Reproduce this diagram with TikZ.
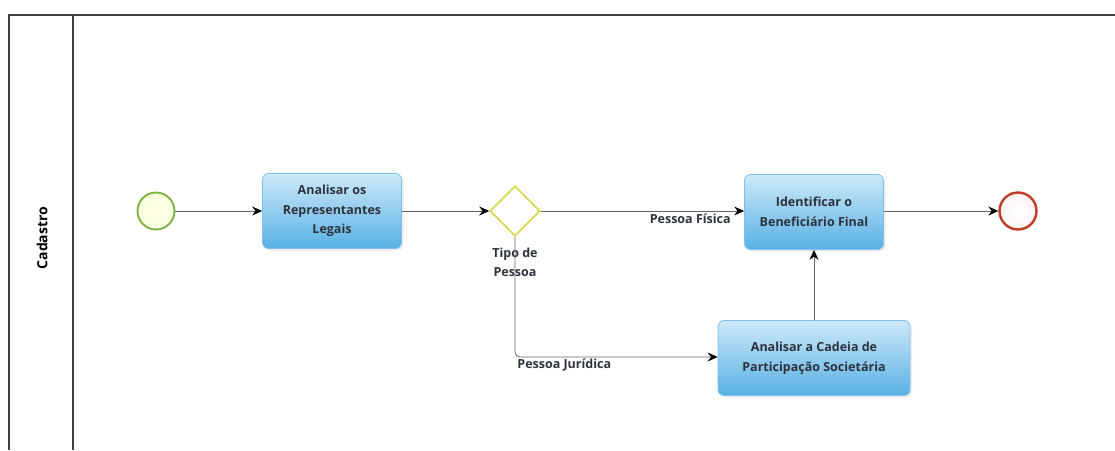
\documentclass[tikz,border=0pt]{standalone}
\usepackage{fontspec}
\setmainfont{Open Sans}
\usetikzlibrary{arrows.meta,shapes.geometric,shadows}
\definecolor{tasktop}{RGB}{205,233,249}
\definecolor{taskbot}{RGB}{88,176,228}
\definecolor{taskline}{RGB}{125,192,235}
\definecolor{startline}{RGB}{122,178,60}
\definecolor{endline}{RGB}{190,60,40}
\definecolor{gateline}{RGB}{215,215,70}
\definecolor{txt}{RGB}{45,50,60}
\begin{document}
\begin{tikzpicture}[x=1pt,y=-1pt,
  pool/.style={draw=black!75,line width=1.3pt},
  task/.style={draw=taskline,line width=0.8pt,rounded corners=6pt,
    top color=tasktop,bottom color=taskbot,
    minimum width=139pt,minimum height=75pt,align=center,
    font=\bfseries\fontsize{12.5}{19.5}\selectfont,text=txt,
    drop shadow={opacity=0.15,shadow xshift=2pt,shadow yshift=-2pt}},
  startev/.style={circle,draw=startline,line width=1.8pt,
    inner sep=0pt,minimum size=37pt,inner color=yellow!12,outer color=lime!12},
  endev/.style={circle,draw=endline,line width=2.4pt,
    inner sep=0pt,minimum size=37pt,inner color=white,outer color=red!5},
  gate/.style={diamond,draw=gateline,line width=1.6pt,fill=white,
    inner sep=0pt,minimum width=50pt,minimum height=50pt},
  flow/.style={draw=black!60,line width=0.8pt,-{Stealth[length=10pt,width=9pt,inset=3.5pt,color=black]}},
  lbl/.style={font=\bfseries\fontsize{12.5}{15}\selectfont,text=txt,inner sep=1pt}
]
\useasboundingbox (0,0) rectangle (1115,450);
\fill[white] (0,0) rectangle (1115,450);
% pool
\draw[pool] (8,15) -- (1115,15);
\draw[pool] (9,15) -- (9,450);
\draw[pool] (73,15) -- (73,450);
\node[rotate=90,font=\bfseries\fontsize{14}{16}\selectfont] (lane) at (42,238) {Cadastro};
% nodes
\node[startev] (start) at (156,211) {};
\node[task] (t1) at (332,211) {Analisar os\\Representantes\\Legais};
\node[gate] (g) at (515,211) {};
\node[lbl,align=center,font=\bfseries\fontsize{12.5}{19}\selectfont] (glbl) at (515,262) {Tipo de\\Pessoa};
\node[task] (t3) at (814,212) {Identificar o\\Beneficiário Final};
\node[endev] (end) at (1018,211) {};
\node[task,minimum width=192pt] (t4) at (814,358) {Analisar a Cadeia de\\Participação Societária};
\coordinate (corner) at (515,357);
% flows
\draw[flow] (start) -- (t1.west |- start);
\draw[flow] (t1.east |- g) -- (g.west);
\draw[flow] (g.east) -- (t3.west |- g) node[lbl,pos=1,anchor=north east,xshift=-12pt,yshift=-2pt] {Pessoa Física};
\draw[flow,rounded corners=5pt] (g.south) -- (corner) -- (t4.west |- corner)
  node[lbl,pos=0,anchor=north west,xshift=1pt,yshift=-1pt] {Pessoa Jurídica};
\draw[flow] (t4.north -| t3.south) -- (t3.south);
\draw[flow] (t3.east |- end) -- (end.west);
\end{tikzpicture}
\end{document}
